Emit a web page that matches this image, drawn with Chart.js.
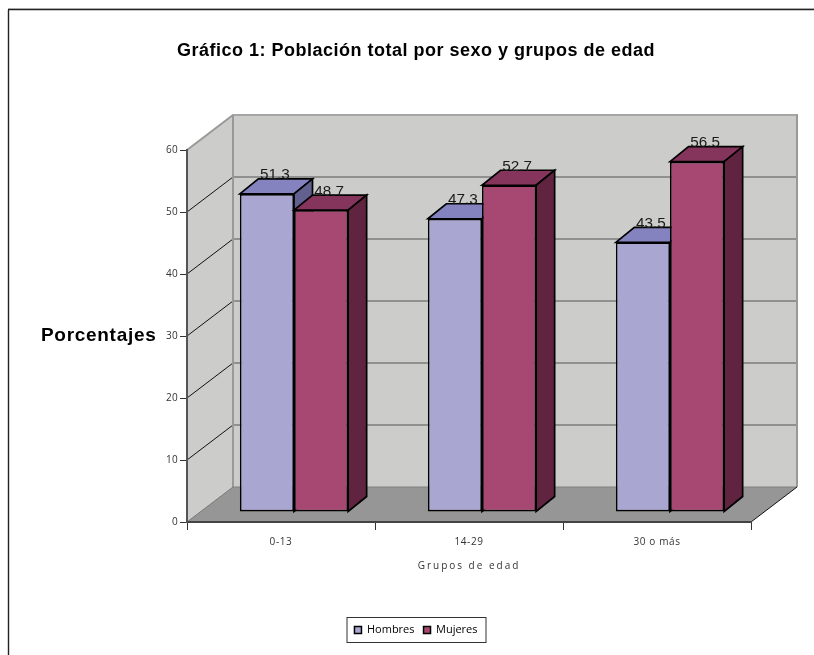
<!DOCTYPE html>
<html lang="es">
<head>
<meta charset="utf-8">
<title>Gráfico 1</title>
<style>html,body{margin:0;padding:0;background:#fff}canvas{display:block}</style>
<script src="https://cdn.jsdelivr.net/npm/chart.js@4"></script>
</head>
<body>
<canvas id="c" width="814" height="655"></canvas>
<script>
const categories = ['0-13', '14-29', '30 o más'];
const hombres = [51.3, 47.3, 43.5];
const mujeres = [48.7, 52.7, 56.5];
const yTicks = [0, 10, 20, 30, 40, 50, 60];
const chartTitle = 'Gráfico 1: Población total por sexo y grupos de edad';
const yTitle = 'Porcentajes';
const xTitle = 'Grupos de edad';

const WALL = {dx: 46, dy: -35};
const BAR_NEAR = {dx: 13, dy: -10};
const BAR_FAR = {dx: 18.5, dy: -15};
const SANS = '"Liberation Sans", Arial, sans-serif';
const SOFT = '"Open Sans", sans-serif';
const faces = [
  {top: '#8583BF', side: '#62608F'},
  {top: '#85345C', side: '#602440'}
];

function poly(ctx, pts, fill, stroke, lw) {
  ctx.beginPath();
  pts.forEach((p, i) => i ? ctx.lineTo(p[0], p[1]) : ctx.moveTo(p[0], p[1]));
  ctx.closePath();
  if (fill) { ctx.fillStyle = fill; ctx.fill(); }
  if (stroke) { ctx.strokeStyle = stroke; ctx.lineWidth = lw; ctx.lineJoin = 'miter'; ctx.stroke(); }
}
function line(ctx, x1, y1, x2, y2, color, lw) {
  ctx.beginPath(); ctx.moveTo(x1, y1); ctx.lineTo(x2, y2);
  ctx.strokeStyle = color; ctx.lineWidth = lw; ctx.stroke();
}
function wrapSpacing(obj, method, spacing) {
  const orig = obj[method];
  obj[method] = function () {
    const c = this.ctx; c.save(); c.letterSpacing = spacing;
    orig.apply(this, arguments); c.restore();
  };
}

const scene = {
  id: 'scene',
  afterLayout(chart) {
    if (chart.$spaced) return;
    chart.$spaced = true;
    wrapSpacing(chart.titleBlock, 'draw', '0.5px');
    wrapSpacing(chart.scales.x, 'drawTitle', '2px');
    wrapSpacing(chart.scales.x, 'drawLabels', '0.6px');
    wrapSpacing(chart.scales.y, 'drawLabels', '0.3px');
  },
  beforeDraw(chart) {
    const c = chart.ctx, a = chart.chartArea, y = chart.scales.y;
    c.save();
    c.fillStyle = '#fff'; c.fillRect(0, 0, chart.width, chart.height);
    // outer frame
    line(c, 8.5, 10, 8.5, chart.height, '#222', 1.4);
    line(c, 8, 9.5, chart.width, 9.5, '#222', 1.4);
    line(c, 8, 8.5, chart.width, 8.5, '#aaa', 1);
    const bx = a.left + WALL.dx, tx = a.right + WALL.dx;
    const up = WALL.dy;
    // side wall, back wall, floor
    poly(c, [[a.left, a.top], [bx, a.top + up], [bx, a.bottom + up], [a.left, a.bottom]], '#CCCCCB');
    poly(c, [[bx, a.top + up], [tx, a.top + up], [tx, a.bottom + up], [bx, a.bottom + up]], '#CCCCCB');
    poly(c, [[a.left, a.bottom], [bx, a.bottom + up], [tx, a.bottom + up], [a.right, a.bottom]], '#969696');
    // gridlines on the walls
    yTicks.slice(1, -1).forEach(v => {
      const py = y.getPixelForValue(v);
      line(c, a.left, py, bx, py + up, '#111', 1);
      line(c, bx, py + up, tx, py + up, '#555', 1);
    });
    // wall edges
    line(c, a.left, a.top, bx, a.top + up, '#999', 2);
    line(c, bx - 1, a.top + up, tx + 1, a.top + up, '#A6A6A6', 2);
    line(c, bx, a.top + up, bx, a.bottom + up, '#999', 2);
    line(c, tx, a.top + up, tx, a.bottom + up, '#999', 2);
    line(c, bx, a.bottom + up, tx, a.bottom + up, '#808080', 1);
    line(c, a.right, a.bottom, tx, a.bottom + up, '#111', 1);
    line(c, a.left, a.bottom, bx, a.bottom + up, '#777', 1);
    c.restore();
  },
  // Bars are painted here, Hombres before Mujeres, so the later bar covers the earlier side face.
  beforeDatasetsDraw(chart) {
    const c = chart.ctx;
    chart.data.datasets.forEach((ds, i) => {
      const meta = chart.getDatasetMeta(i), f = faces[i];
      c.save();
      meta.data.forEach(b => {
        const l = b.x - b.width / 2 + BAR_NEAR.dx, r = b.x + b.width / 2 + BAR_NEAR.dx;
        const t = b.y + BAR_NEAR.dy, u = b.base + BAR_NEAR.dy;
        const dx = BAR_FAR.dx, dy = BAR_FAR.dy;
        poly(c, [[l, t], [l + dx, t + dy], [r + dx, t + dy], [r, t]], f.top, '#000', 1.7);
        poly(c, [[r, t], [r + dx, t + dy], [r + dx, u + dy], [r, u]], f.side, '#000', 1.7);
      });
      c.translate(BAR_NEAR.dx, BAR_NEAR.dy);
      meta.controller.draw();
      c.restore();
    });
    c.save();
    c.font = '15.3px ' + SANS;
    c.fillStyle = '#1a1a1a';
    c.textAlign = 'center';
    c.textBaseline = 'alphabetic';
    chart.data.datasets.forEach((ds, i) => {
      chart.getDatasetMeta(i).data.forEach((b, j) => {
        c.fillText(ds.data[j].toFixed(1), b.x + BAR_NEAR.dx + 8, b.y + BAR_NEAR.dy + BAR_FAR.dy + 0.5);
      });
    });
    // y axis title, horizontal as in the original
    c.font = 'bold 19px ' + SANS;
    c.letterSpacing = '0.7px';
    c.fillStyle = '#000';
    c.textAlign = 'left';
    c.textBaseline = 'middle';
    c.fillText(yTitle, 41, 336);
    c.restore();
    // legend frame
    c.save();
    c.strokeStyle = '#333'; c.lineWidth = 1;
    c.strokeRect(347, 617.5, 139, 25);
    c.restore();
    return false;
  }
};

new Chart(document.getElementById('c'), {
  type: 'bar',
  data: {
    labels: categories,
    datasets: [
      {label: 'Hombres', data: hombres, backgroundColor: '#A9A6D2', borderColor: '#000', borderWidth: 1.7,
       borderSkipped: false, categoryPercentage: 0.576, barPercentage: 1},
      {label: 'Mujeres', data: mujeres, backgroundColor: '#A64872', borderColor: '#000', borderWidth: 1.7,
       borderSkipped: false, categoryPercentage: 0.576, barPercentage: 1}
    ]
  },
  options: {
    responsive: false,
    animation: false,
    layout: {padding: {left: 81, right: 63, top: 0, bottom: 9.5}},
    scales: {
      x: {
        afterFit(s) { s.height = 93.5; },
        grid: {drawOnChartArea: false, drawTicks: true, tickLength: 8, color: '#333', lineWidth: 1},
        border: {color: '#444', width: 2},
        ticks: {color: '#333', font: {family: SOFT, size: 10}, padding: 6, maxRotation: 0},
        title: {display: true, text: xTitle, color: '#333', font: {family: SOFT, size: 10}, padding: {top: 0, bottom: 43}}
      },
      y: {
        min: 0, max: 60,
        afterBuildTicks(s) { s.ticks = yTicks.map(v => ({value: v})); },
        afterFit(s) { s.width = 106; },
        grid: {drawOnChartArea: false, drawTicks: true, tickLength: 7, color: '#333', lineWidth: 1},
        border: {color: '#555', width: 2},
        ticks: {color: '#333', font: {family: SOFT, size: 10}, padding: 2}
      }
    },
    plugins: {
      title: {display: true, text: chartTitle, color: '#000', font: {family: SANS, size: 18, weight: 'bold'},
              padding: {top: 40, bottom: 88.4}},
      legend: {
        position: 'bottom',
        labels: {color: '#222', font: {family: SOFT, size: 11}, boxWidth: 7, boxHeight: 7, padding: 9,
                 generateLabels(chart) {
                   return chart.data.datasets.map((d, i) => ({text: d.label, fillStyle: d.backgroundColor,
                     strokeStyle: '#000', lineWidth: 1.5, datasetIndex: i, hidden: false}));
                 }}
      },
      tooltip: {enabled: false}
    }
  },
  plugins: [scene]
});
</script>
</body>
</html>
